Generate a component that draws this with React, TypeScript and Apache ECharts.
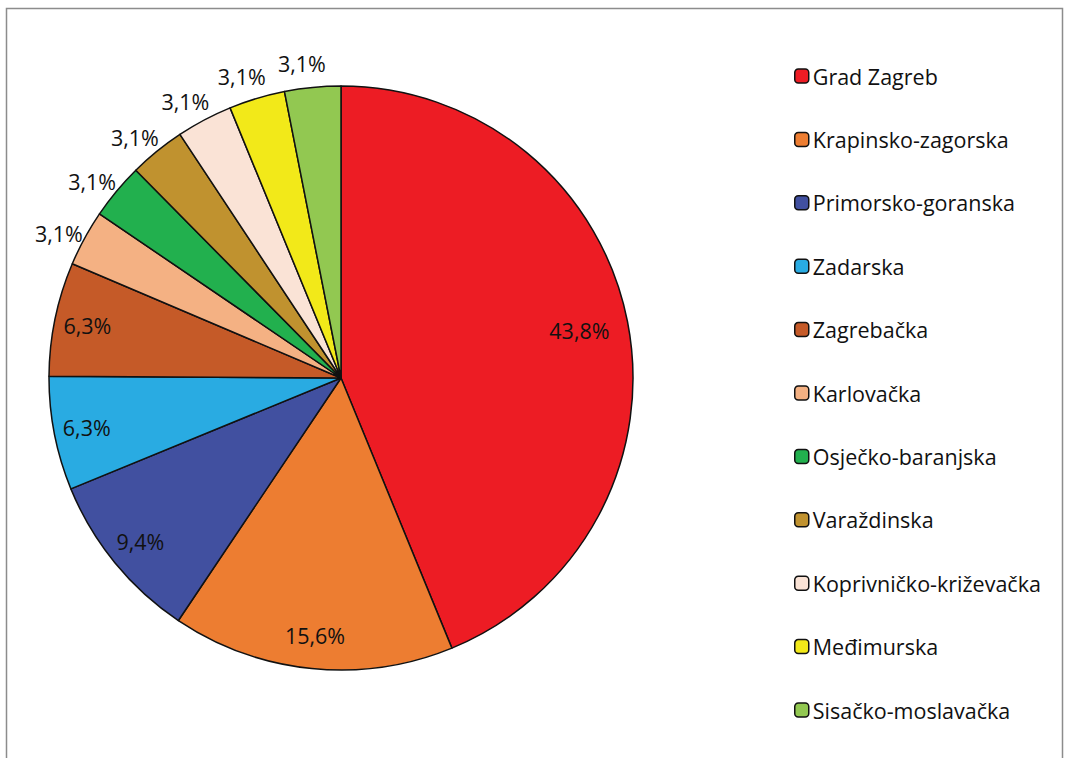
import React, { useEffect, useRef } from "react";
import * as echarts from "echarts";

const categories = [
  "Grad Zagreb",
  "Krapinsko-zagorska",
  "Primorsko-goranska",
  "Zadarska",
  "Zagrebačka",
  "Karlovačka",
  "Osječko-baranjska",
  "Varaždinska",
  "Koprivničko-križevačka",
  "Međimurska",
  "Sisačko-moslavačka",
];
const percents = [43.8, 15.6, 9.4, 6.3, 6.3, 3.1, 3.1, 3.1, 3.1, 3.1, 3.1];
const colors = [
  "#ED1C24",
  "#ED7D31",
  "#4150A0",
  "#29ABE2",
  "#C55A28",
  "#F4B183",
  "#22B04E",
  "#C0922F",
  "#FAE3D6",
  "#F2E919",
  "#92C851",
];
// which label placement each slice uses in the reference
const labelPlacement = ["deep", "inner", "inner", "inner", "inner", "outer", "outer", "outer", "outer", "outer", "outer"];

const FONT = "'Open Sans', sans-serif";
const CX = 341;
const CY = 378;
const R = 292;

export default function App() {
  const ref = useRef<HTMLDivElement>(null);
  useEffect(() => {
    if (!ref.current) return;
    const chart = echarts.init(ref.current, null, { renderer: "svg" });
    const fmt = (v: number) => v.toFixed(1).replace(".", ",") + "%";
    const overlay = (kind: string, radius: [number, number], startAngle = 90) => ({
      type: "pie",
      silent: true,
      legendHoverLink: false,
      center: [CX, CY],
      radius,
      startAngle,
      clockwise: true,
      animation: false,
      emphasis: { disabled: true },
      itemStyle: { color: "rgba(0,0,0,0)", borderWidth: 0 },
      labelLine: { show: false },
      data: categories.map((name, i) => ({
        name,
        value: percents[i],
        label: {
          show: labelPlacement[i] === kind,
          position: "inside",
          formatter: () => fmt(percents[i]),
          fontFamily: FONT,
          fontSize: 21.5,
          color: "#111",
        },
      })),
    });
    chart.setOption({
      animation: false,
      graphic: [
        {
          type: "rect",
          silent: true,
          shape: { x: 6.5, y: 8.5, width: 1056, height: 780 },
          style: { fill: "none", stroke: "#8c8c8c", lineWidth: 1.5 },
        },
      ],
      legend: {
        orient: "vertical",
        left: 789,
        top: 60,
        itemWidth: 14,
        itemHeight: 14,
        itemGap: 41.4,
        data: categories,
        selectedMode: false,
        textStyle: {
          fontFamily: FONT,
          fontSize: 21.5,
          color: "#111",
          lineHeight: 22,
          padding: [0, 0, 0, -1],
        },
        itemStyle: { borderColor: "#111", borderWidth: 1.5 },
      },
      series: [
        {
          type: "pie",
          center: [CX, CY],
          radius: [0, R],
          startAngle: 90,
          clockwise: true,
          animation: false,
          label: { show: false },
          labelLine: { show: false },
          emphasis: { disabled: true },
          itemStyle: { borderColor: "#111", borderWidth: 1.5 },
          data: categories.map((name, i) => ({
            name,
            value: percents[i],
            itemStyle: { color: colors[i] },
          })),
        },
        overlay("deep", [188, R]),
        overlay("inner", [220, R]),
        overlay("outer", [294, 334], 91.5),
      ],
    });
    return () => chart.dispose();
  }, []);
  return (
    <div
      ref={ref}
      style={{ position: "fixed", left: 0, top: 0, width: 1069, height: 758, background: "#fff" }}
    />
  );
}
